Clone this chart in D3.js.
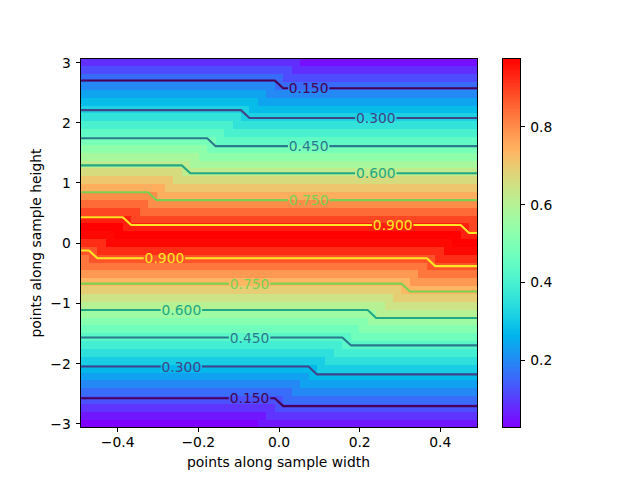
<!DOCTYPE html>
<html>
<head>
<meta charset="utf-8">
<script src="https://cdn.jsdelivr.net/npm/d3@7"></script>
<style>
  html, body { margin: 0; padding: 0; background: #fff; }
  svg { display: block; }
  text { font-family: "DejaVu Sans", sans-serif; font-size: 13.89px; fill: #000; }
</style>
</head>
<body>
<div class="graph"></div>
<script>
const rowValues = [
  0.030, 0.045, 0.082, 0.118, 0.158, 0.197, 0.237, 0.277, 0.317, 0.359,
  0.401, 0.443, 0.486, 0.530, 0.573, 0.617, 0.662, 0.706, 0.748, 0.797,
  0.843, 0.890, 0.937, 0.973, 0.965, 0.921, 0.874, 0.828, 0.781, 0.735,
  0.690, 0.644, 0.602, 0.557, 0.514, 0.472, 0.431, 0.390, 0.349, 0.309,
  0.271, 0.234, 0.197, 0.160, 0.124, 0.089, 0.054, 0.026
];
// column where each row steps down by one row (two diagonals in the picture)
const firstStep = [
  27, 26, 25, 24, 23, 22, 21, 20, 19, 18, 17, 16, 15, 14, 13, 12,
  11, 10, 9, 8, 7, 6, 5, 4, 3, 2, 1, 0, 0, 0, 0, 0,
  0, 0, 0, 0, 0, 0, 0, 0, 0, 0, 0, 0, 0, 0, 0, 0
];
const secondStep = [
  48, 48, 48, 48, 48, 48, 48, 48, 48, 48, 48, 48, 48, 48, 48, 48,
  48, 48, 48, 48, 48, 47, 46, 45, 44, 43, 42, 41, 40, 39, 38, 37,
  36, 35, 34, 33, 32, 31, 30, 29, 28, 27, 26, 25, 24, 23, 22, 21
];
const levels = [0.15, 0.30, 0.45, 0.60, 0.75, 0.90];
const upperLabelX = [0.0735, 0.24, 0.0735, 0.24, 0.0735, 0.282];
const lowerLabelX = [-0.073, -0.242, -0.073, -0.242, -0.073, -0.284];
const xTicks = [-0.4, -0.2, 0, 0.2, 0.4];
const yTicks = [-3, -2, -1, 0, 1, 2, 3];
const barTicks = [0.2, 0.4, 0.6, 0.8];

const nCols = 47, nRows = 47;
const vMin = 0.027, vMax = 0.974;
const xMax = 0.4922, yMax = 3.066;
const gapHalf = 20.7;

const svg = d3.select('.graph').append('svg').attr('width', 640).attr('height', 480);

const xScale = d3.scaleLinear().domain([-xMax, xMax]).range([80.5, 477.5]);
const yScale = d3.scaleLinear().domain([-yMax, yMax]).range([427.5, 58.5]);
const barScale = d3.scaleLinear().domain([vMin, vMax]).range([427.5, 58.5]);

// mesh index -> data coordinate
const colX = d3.scaleLinear().domain([0, nCols]).range([-xMax, xMax]);
const rowY = d3.scaleLinear().domain([0, nRows]).range([yMax, -yMax]);

// matplotlib's rainbow colormap
const rainbow = t => {
    const c = v => Math.round(255 * Math.min(1, Math.max(0, v)));
    return `rgb(${c(Math.abs(2 * t - 0.5))},${c(Math.sin(Math.PI * t))},${c(Math.cos(Math.PI * t / 2))})`;
};
const colorOf = v => rainbow((v - vMin) / (vMax - vMin));
const lineColor = d3.scaleLinear().domain([levels[0], levels[levels.length - 1]]).range([0, 1]);

const zAt = (r, c) => {
    if (c < firstStep[r]) return rowValues[r + 1];
    if (c < secondStep[r]) return rowValues[r];
    return rowValues[r - 1];
};

// mesh, flat shading: a cell takes the value of its lower left grid point
const cells = [];
for (let r = 0; r < nRows; r++) {
    for (let c = 0; c < nCols; c++) cells.push({ r, c, v: zAt(r + 1, c) });
}
svg.append('g').selectAll('rect').data(cells).join('rect')
    .attr('x', d => xScale(colX(d.c)))
    .attr('y', d => yScale(rowY(d.r)))
    .attr('width', d => xScale(colX(d.c + 1)) - xScale(colX(d.c)))
    .attr('height', d => yScale(rowY(d.r + 1)) - yScale(rowY(d.r)))
    .attr('fill', d => colorOf(d.v))
    .attr('shape-rendering', 'crispEdges');

// one crossing per column, walking in from the top or the bottom
const crossing = (level, c, fromTop) => {
    const rows = d3.range(nRows);
    if (!fromTop) rows.reverse();
    for (const i of rows) {
        const a = fromTop ? i : i + 1, b = fromTop ? i + 1 : i;
        const za = zAt(a, c), zb = zAt(b, c);
        if (za < level && zb >= level) {
            return rowY(a + (b - a) * (level - za) / (zb - za));
        }
    }
    return null;
};

const lineGen = d3.line().x(d => d[0]).y(d => d[1]);
const contourG = svg.append('g').attr('fill', 'none').attr('stroke-width', 2.08).attr('stroke-linejoin', 'round');
const labelG = svg.append('g');

const drawContour = (level, i, fromTop, labelX) => {
    const color = d3.interpolateViridis(lineColor(level));
    const pts = d3.range(nCols + 1).map(c => [xScale(colX(c)), yScale(crossing(level, c, fromTop))]);
    const lx = xScale(labelX);
    const yAt = px => {
        const k = Math.min(pts.length - 2, Math.max(0, d3.bisector(p => p[0]).right(pts, px) - 1));
        const t = (px - pts[k][0]) / (pts[k + 1][0] - pts[k][0]);
        return pts[k][1] + t * (pts[k + 1][1] - pts[k][1]);
    };
    const left = pts.filter(p => p[0] < lx - gapHalf).concat([[lx - gapHalf, yAt(lx - gapHalf)]]);
    const right = [[lx + gapHalf, yAt(lx + gapHalf)]].concat(pts.filter(p => p[0] > lx + gapHalf));
    contourG.append('path').attr('d', lineGen(left)).attr('stroke', color);
    contourG.append('path').attr('d', lineGen(right)).attr('stroke', color);
    labelG.append('text')
        .attr('x', lx).attr('y', yAt(lx)).attr('dy', '0.36em')
        .attr('text-anchor', 'middle')
        .style('fill', color)
        .text(level.toFixed(3));
};
levels.forEach((level, i) => {
    drawContour(level, i, true, upperLabelX[i]);
    drawContour(level, i, false, lowerLabelX[i]);
});

const minus = s => s.replace('-', '\u2212');
const styleAxis = g => {
    g.select('.domain').remove();
    g.selectAll('.tick line').attr('stroke', '#000').attr('stroke-width', 1).attr('shape-rendering', 'crispEdges');
    g.selectAll('.tick text').attr('fill', '#000');
    g.attr('font-family', null).attr('font-size', null);
};

const xAxis = d3.axisBottom(xScale).offset(0).tickValues(xTicks).tickSize(4.86).tickPadding(4.86)
    .tickFormat(d => minus(d3.format('.1f')(d)));
svg.append('g').attr('transform', 'translate(0,427.5)').call(xAxis).call(styleAxis);

const yAxis = d3.axisLeft(yScale).offset(0).tickValues(yTicks).tickSize(4.86).tickPadding(4.86)
    .tickFormat(d => minus(String(d)));
svg.append('g').attr('transform', 'translate(80.5,0)').call(yAxis).call(styleAxis)
    .selectAll('.tick text').attr('dy', '0.38em');

const frame = (x0, x1) => svg.append('rect')
    .attr('x', x0).attr('y', 58.5).attr('width', x1 - x0).attr('height', 369)
    .attr('fill', 'none').attr('stroke', '#000').attr('stroke-width', 1)
    .attr('shape-rendering', 'crispEdges');
frame(80.5, 477.5);

// colorbar
const barX0 = 502.5, barX1 = 520.5;
const barSteps = d3.range(256);
const barV = d3.scaleLinear().domain([0, 256]).range([vMin, vMax]);
svg.append('g').selectAll('rect').data(barSteps).join('rect')
    .attr('x', barX0)
    .attr('y', d => barScale(barV(d + 1)))
    .attr('width', barX1 - barX0)
    .attr('height', d => barScale(barV(d)) - barScale(barV(d + 1)))
    .attr('fill', d => rainbow((d + 0.5) / 256))
    .attr('shape-rendering', 'crispEdges');
const barAxis = d3.axisRight(barScale).offset(0).tickValues(barTicks).tickSize(4.86).tickPadding(4.86)
    .tickFormat(d3.format('.1f'));
svg.append('g').attr('transform', `translate(${barX1},0)`).call(barAxis).call(styleAxis)
    .selectAll('.tick text').attr('dy', '0.38em');
frame(barX0, barX1);

svg.append('text').attr('x', 278.5).attr('y', 466.5).attr('text-anchor', 'middle')
    .text('points along sample width');
svg.append('text').attr('transform', 'translate(41,243) rotate(-90)').attr('text-anchor', 'middle')
    .text('points along sample height');
</script>
</body>
</html>
